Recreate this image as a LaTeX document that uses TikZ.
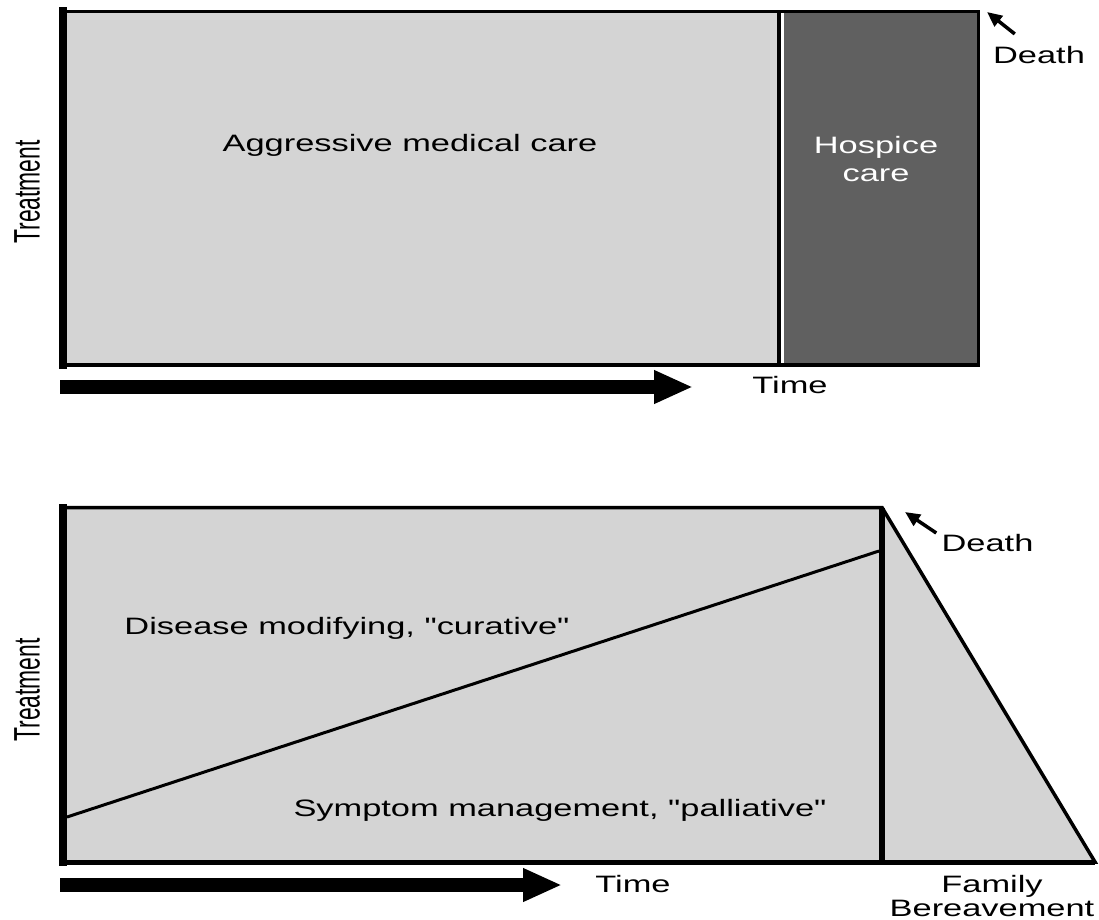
\documentclass[tikz,border=0pt]{standalone}
\usepackage{fontspec}
\setmainfont{Liberation Sans}
\newfontfamily\widesans[FakeStretch=1.45, Ligatures=TeXOff]{Liberation Sans}
\usetikzlibrary{arrows.meta,calc}
\usepackage{xcolor}
\definecolor{hcLight}{HTML}{D4D4D4}
\definecolor{hcDark}{HTML}{606060}

\begin{document}
\begin{tikzpicture}[
  lbl/.style={font=\widesans\fontsize{13.5}{16}\selectfont, inner sep=0pt, align=center},
  ylbl/.style={font=\fontsize{21}{24}\selectfont, inner sep=0pt, rotate=90},
  edge/.style={line width=0.06cm, line join=miter},
  heavy/.style={line width=0.16cm, line cap=rect},
  ptr/.style={-{Triangle[length=3mm, width=2.6mm]}, line width=0.07cm},
  timearr/.style={-{Triangle[length=7.8mm, width=6.2mm]}, line width=0.27cm}]
\useasboundingbox (0,0) rectangle (21.98,-18.40);

% ── (a) aggressive care, then hospice
\fill[hcLight] (1.26,-0.23) rectangle (15.58,-7.30);
\fill[hcDark] (15.68,-0.23) rectangle (19.57,-7.30);
\draw[edge] (1.26,-0.23) rectangle (19.57,-7.30);
\draw[line width=0.08cm] (15.58,-0.23) -- (15.58,-7.30);
\draw[line width=0.08cm] (1.26,-7.30) -- (19.57,-7.30);
\draw[heavy] (1.26,-0.23) -- (1.26,-7.30);
\node[lbl] (aggr) at (8.20,-2.90) {Aggressive medical care};
\node[lbl, text=white, font=\widesans\fontsize{13.5}{15.9}\selectfont] (hosp) at (17.52,-3.18) {Hospice\\care};
\node[lbl] (death1) at (20.78,-1.10) {Death};
\coordinate (corner1) at (19.74,-0.24);
\draw[ptr] ($(death1.north west)+(0.44,0.24)$) -- (corner1);
\coordinate (t1a) at (1.20,-7.74);
\coordinate (t1b) at (13.86,-7.74);
\draw[timearr] (t1a) -- (t1b);
\node[lbl] (time1) at (15.80,-7.70) {Time};

% ── (b) curative and palliative side by side, then bereavement
\fill[hcLight] (1.26,-10.15) -- (17.64,-10.15) -- (21.90,-17.24) -- (1.26,-17.24) -- cycle;
\draw[edge, line width=0.07cm] (1.26,-10.15) -- (17.64,-10.15) -- (21.90,-17.24) -- (1.26,-17.24) -- cycle;
\draw[line width=0.1cm] (1.26,-17.24) -- (21.90,-17.24);
\draw[line width=0.12cm] (17.64,-10.15) -- (17.64,-17.24);
\draw[heavy] (1.26,-10.15) -- (1.26,-17.24);
\draw[line width=0.06cm] (1.34,-16.34) -- (17.58,-11.02);
\node[lbl] (cure) at (6.94,-12.56) {Disease modifying, "curative"};
\node[lbl] (pall) at (11.20,-16.20) {Symptom management, "palliative"};
\node[lbl] (death2) at (19.75,-10.86) {Death};
\coordinate (corner2) at (18.10,-10.24);
\draw[ptr] ($(death2.west)+(-0.10,0.20)$) -- (corner2);
\coordinate (t2a) at (1.20,-17.70);
\coordinate (t2b) at (11.24,-17.70);
\draw[timearr] (t2a) -- (t2b);
\node[lbl] (time2) at (12.66,-17.68) {Time};
\node[lbl, font=\widesans\fontsize{13.5}{13.6}\selectfont] (fam) at (19.84,-17.92) {Family\\Bereavement};

\foreach \y/\n in {-3.84/treat1,-13.80/treat2}{
  \node[ylbl] (\n) at (0.54,\y) {\scalebox{0.62}[1]{Treatment}};}
\end{tikzpicture}
\end{document}
